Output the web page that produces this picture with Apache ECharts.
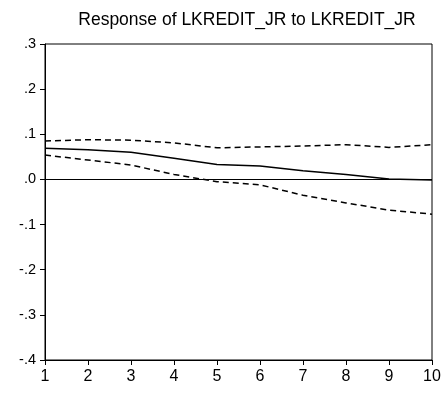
<!DOCTYPE html>
<html>
<head>
<meta charset="utf-8">
<script src="https://cdn.jsdelivr.net/npm/echarts@6/dist/echarts.min.js"></script>
<style>
  html, body { margin: 0; padding: 0; background: #fff; }
  #chart { width: 444px; height: 395px; }
</style>
</head>
<body>
<div id="chart"></div>
<script>
// Impulse response: periods, point response and ±2 S.E. bands
const periods = [1, 2, 3, 4, 5, 6, 7, 8, 9, 10];
const response = [0.069, 0.066, 0.060, 0.047, 0.033, 0.030, 0.019, 0.011, 0.001, -0.001];
const upperBand = [0.085, 0.088, 0.087, 0.081, 0.070, 0.072, 0.074, 0.077, 0.071, 0.077];
const lowerBand = [0.054, 0.043, 0.032, 0.011, -0.005, -0.012, -0.035, -0.052, -0.068, -0.077];
const titleText = 'Response of LKREDIT_JR to LKREDIT_JR';

const font = 'Liberation Sans, Arial, sans-serif';
const pairs = arr => periods.map((p, i) => [p, arr[i]]);
const fmtY = v => {
  const r = Math.round(v * 10) / 10;
  if (r === 0) return '.0';
  const s = Math.abs(r).toFixed(1).replace(/^0/, '');
  return (r < 0 ? '-' : '') + s;
};

const chart = echarts.init(document.getElementById('chart'), null, { renderer: 'canvas' });
chart.setOption({
  animation: false,
  backgroundColor: '#fff',
  title: {
    text: titleText,
    left: 242,
    textAlign: 'center',
    top: 6,
    textStyle: { fontFamily: font, fontSize: 17.5, fontWeight: 'normal', color: '#000' }
  },
  grid: {
    left: 45, right: 12, top: 44, bottom: 35,
    show: true, borderColor: '#000', borderWidth: 1, backgroundColor: 'transparent'
  },
  xAxis: {
    type: 'value', min: 1, max: 10, interval: 1,
    axisLine: { show: true, onZero: false, lineStyle: { color: '#000', width: 1 } },
    axisTick: { show: true, inside: false, length: 5, lineStyle: { color: '#000' } },
    axisLabel: { fontFamily: font, fontSize: 16, color: '#000', margin: 9 },
    splitLine: { show: false }
  },
  yAxis: {
    type: 'value', min: -0.4, max: 0.3, interval: 0.1,
    axisLine: { show: true, lineStyle: { color: '#000', width: 1 } },
    axisTick: { show: true, inside: false, length: 5, lineStyle: { color: '#000' } },
    axisLabel: { fontFamily: font, fontSize: 14.5, color: '#000', margin: 9, formatter: fmtY },
    splitLine: { show: false }
  },
  series: [
    {
      type: 'line', data: pairs(response), symbol: 'none',
      lineStyle: { color: '#000', width: 1.5 },
      markLine: {
        silent: true, symbol: 'none', label: { show: false },
        lineStyle: { color: '#000', width: 1, type: 'solid' },
        data: [{ yAxis: 0 }]
      }
    },
    {
      type: 'line', data: pairs(upperBand), symbol: 'none',
      lineStyle: { color: '#000', width: 1.5, type: [6, 4] }
    },
    {
      type: 'line', data: pairs(lowerBand), symbol: 'none',
      lineStyle: { color: '#000', width: 1.5, type: [6, 4] }
    }
  ]
});
</script>
</body>
</html>
